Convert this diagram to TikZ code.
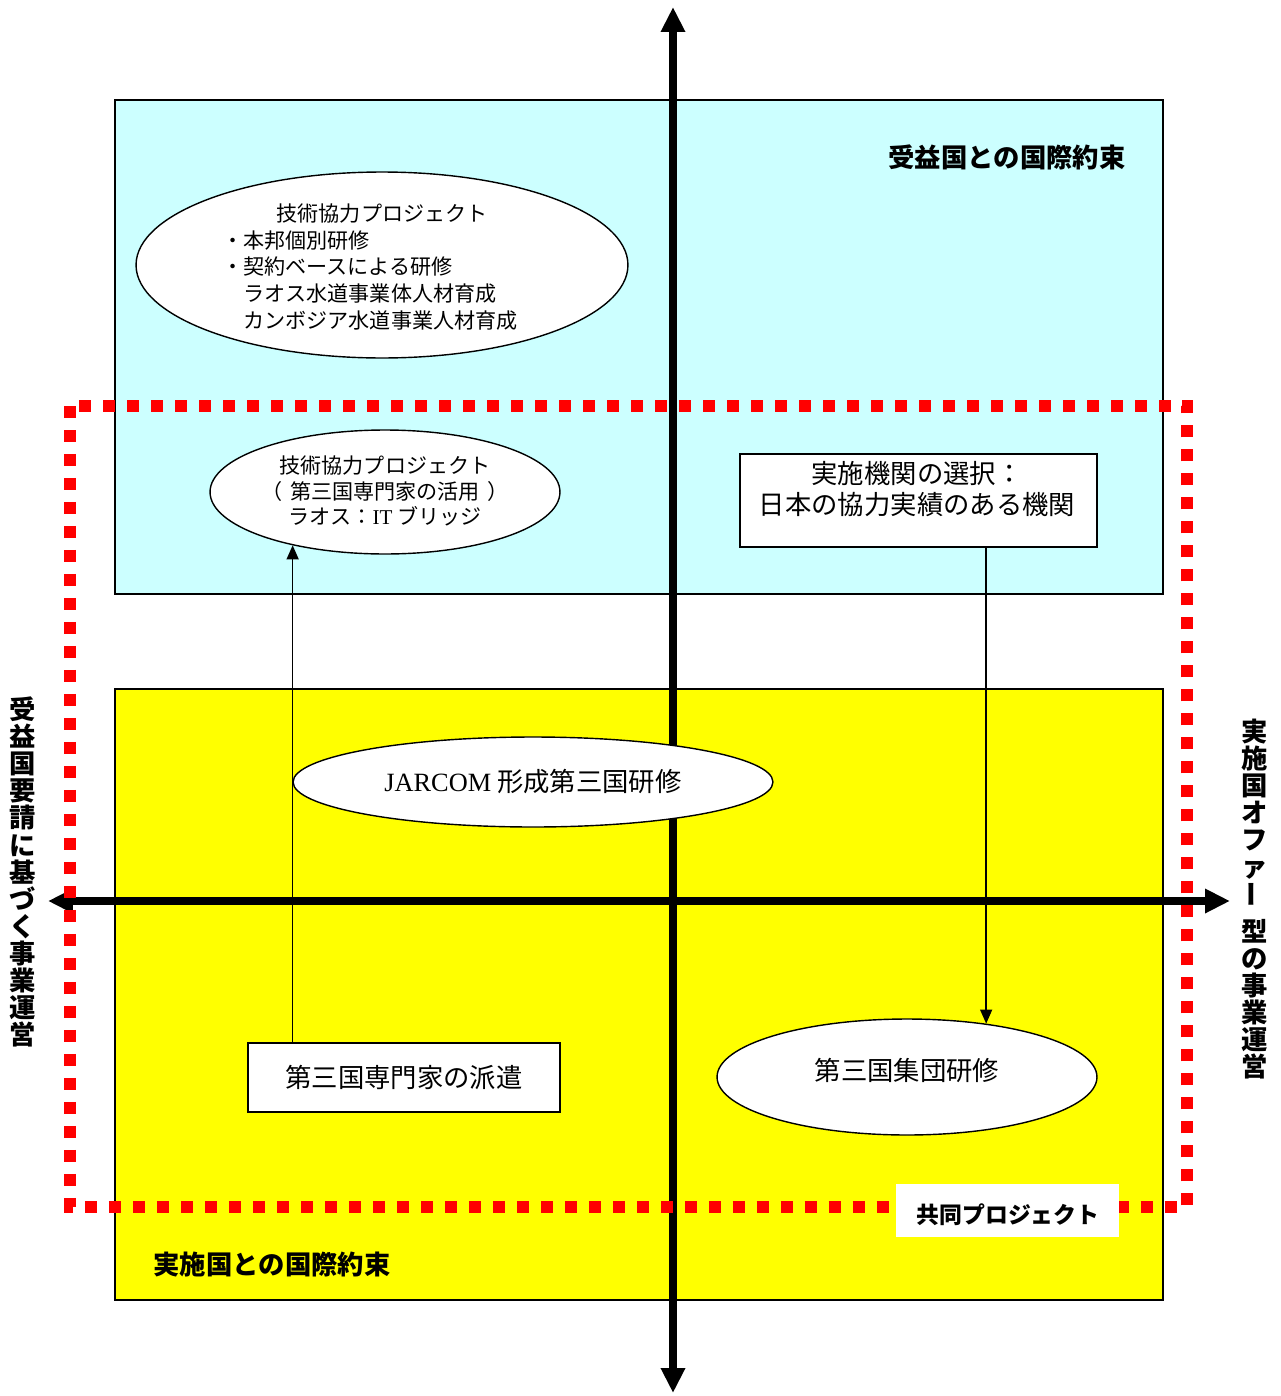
\documentclass[tikz,border=0pt]{standalone}
\usepackage{fontspec}
\setmainfont{Noto Sans CJK JP}
\newfontfamily\lat{Liberation Serif}
\usetikzlibrary{arrows.meta,shapes.geometric}
\definecolor{lcyan}{HTML}{CCFFFF}
\definecolor{lyellow}{HTML}{FFFF00}
\definecolor{dred}{HTML}{FF0000}
\begin{document}
\begin{tikzpicture}[x=0.02cm,y=-0.02cm,
  region/.style={draw=black,line width=0.8pt},
  boxnode/.style={rectangle,draw=black,line width=0.8pt,fill=white,inner sep=0pt},
  oval/.style={ellipse,draw=black,line width=0.8pt,fill=white,inner sep=0pt},
  axis/.style={line width=0.15cm,{Triangle[length=0.5cm,width=0.46cm]}-{Triangle[length=0.5cm,width=0.46cm]}},
  thinarrow/.style={line width=0.8pt,-{Triangle[length=0.28cm,width=0.24cm]}},
  dotline/.style={draw=dred,line width=0.24cm,dash pattern=on 0.24cm off 0.24cm},
  txtA/.style={font=\fontsize{12}{15.3}\selectfont,inner sep=0pt},
  txtB/.style={font=\fontsize{12}{14.7}\selectfont,inner sep=0pt,align=center},
  txtC/.style={font=\fontsize{15}{18.1}\selectfont,inner sep=0pt,align=center},
  bold15/.style={font=\fontsize{15}{18}\selectfont\bfseries,inner sep=0pt},
  vtext/.style={font=\fontsize{15}{15.4}\selectfont\bfseries,inner sep=0pt,align=center}
]
\useasboundingbox[fill=white] (0,0) rectangle (1281,1396);

% regions
\draw[region,fill=lcyan] (115,100) rectangle (1163,594);
\draw[region,fill=lyellow] (115,689) rectangle (1163,1300);

% axes
\coordinate (vtop) at (673,7);
\coordinate (vbot) at (673,1393);
\coordinate (hleft) at (48,901);
\coordinate (hright) at (1230,901);
\draw[axis] (vtop) -- (vbot);
\draw[axis] (hleft) -- (hright);

% red dotted frame
\draw[dotline] (70,406) rectangle (1187,1207);

% ellipse 1
\node[oval,minimum width=9.84cm,minimum height=3.72cm] (e1) at (382,265) {};
\node[txtA,align=left,anchor=west] (e1t) at (222,267) {\hspace*{2.58em}技術協力プロジェクト\\・本邦個別研修\\・契約ベースによる研修\\　ラオス水道事業体人材育成\\　カンボジア水道事業人材育成};

% ellipse 2
\node[oval,minimum width=7.0cm,minimum height=2.48cm] (e2) at (385,492) {};
\node[txtB] (e2t) at (385,491) {技術協力プロジェクト\\（\hspace{0.35em}第三国専門家の活用\hspace{0.35em}）\\ラオス：{\lat IT} ブリッジ};

% box: selection of implementing agency
\node[boxnode,minimum width=7.14cm,minimum height=1.86cm] (sel) at (918.5,500.5) {};
\node[txtC] (selt) at (917,489) {実施機関の選択：\\日本の協力実績のある機関};

% JARCOM ellipse
\node[oval,minimum width=9.6cm,minimum height=1.8cm] (jar) at (533,782) {};
\node[txtC] (jart) at (533,782) {{\lat JARCOM} 形成第三国研修};

% box: dispatch of experts
\node[boxnode,minimum width=6.24cm,minimum height=1.38cm,font=\fontsize{15}{18}\selectfont] (exp) at (404,1077.5) {第三国専門家の派遣};

% group training ellipse
\node[oval,minimum width=7.6cm,minimum height=2.32cm] (grp) at (907,1077) {};
\node[txtC] (grpt) at (907,1070) {第三国集団研修};

% connectors
\draw[thinarrow] (exp.north -| e2.210) -- (e2.210);
\draw[thinarrow] (sel.south -| grp.34) -- (grp.34);

% labels
\node[bold15] (lab1) at (1007,157) {受益国との国際約束};
\node[bold15] (lab2) at (272,1264) {実施国との国際約束};
\node[rectangle,fill=white,minimum width=4.46cm,minimum height=1.06cm,inner sep=0pt] (joint) at (1007.5,1210.5) {};
\node[font=\fontsize{13}{15}\selectfont\bfseries,inner sep=0pt] (jointt) at (1008,1215) {共同プロジェクト};

% vertical texts
\node[vtext] (left) at (23,872) {受\\益\\国\\要\\請\\に\\基\\づ\\く\\事\\業\\運\\営};
\node[vtext] (right) at (1255,899) {実\\施\\国\\オ\\フ\\ァ\\\rotatebox{90}{ー}\\[4pt]型\\の\\事\\業\\運\\営};
\end{tikzpicture}
\end{document}
